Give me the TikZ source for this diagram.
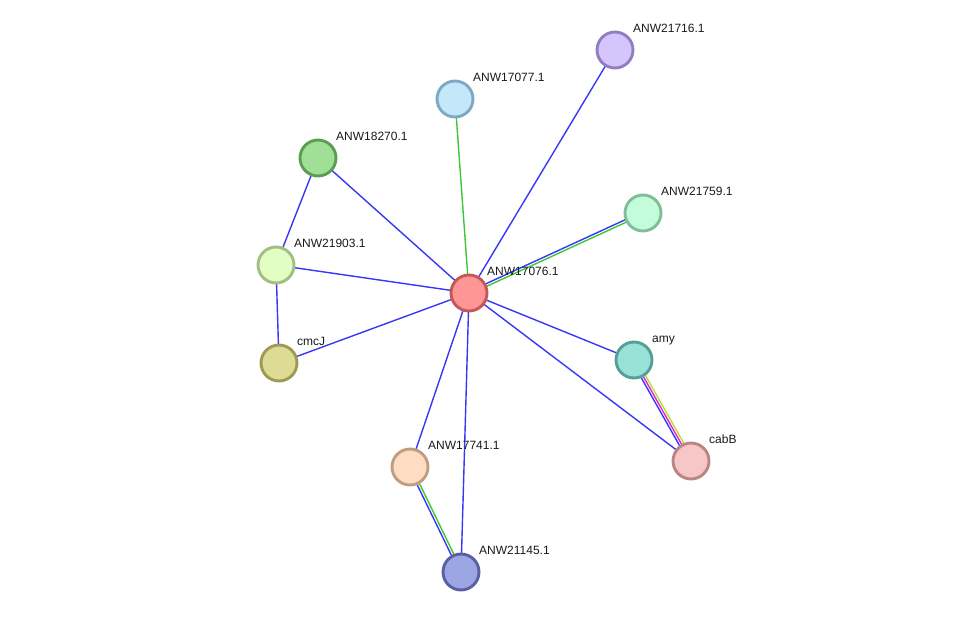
\documentclass[tikz,border=0pt]{standalone}
\usepackage{fontspec}
\setmainfont{Liberation Sans}
\usetikzlibrary{calc}
\pgfdeclarelayer{background}
\pgfsetlayers{background,main}
\definecolor{eblue}{RGB}{55,55,245}
\definecolor{egreen}{RGB}{60,200,50}
\definecolor{emag}{RGB}{220,40,220}
\definecolor{eyel}{RGB}{190,220,50}
\tikzset{
  prot/.style={circle, minimum size=36pt, inner sep=0pt, line width=2.9pt},
  lab/.style={anchor=base west, inner sep=0pt, font=\fontsize{12}{14}\selectfont, text=black!90},
  edge/.style={line width=1.4pt},
}
\newcommand{\pnode}[5]{%
  \definecolor{f#1}{HTML}{#4}\definecolor{b#1}{HTML}{#5}%
  \node[prot, fill=f#1, draw=b#1] (#1) at (#2) {};
  \node[lab] (#1-l) at ($(#1)+(18,-17.7)$) {#3};
}
\newcommand{\pedge}[4][0]{%
  \draw[edge, #4] ($(#2)!#1pt!90:(#3)$) -- ($(#3)!#1pt!-90:(#2)$);
}
\begin{document}
\begin{tikzpicture}[x=1pt, y=-1pt]
\useasboundingbox (0,0) rectangle (976,617);
\pnode{c}{469,293}{ANW17076.1}{FF9696}{C45858}
\pnode{a}{615,50}{ANW21716.1}{D6C4FC}{8F7FC0}
\pnode{b}{455,99}{ANW17077.1}{C2E8FA}{7FA8C4}
\pnode{d}{318,158}{ANW18270.1}{A0E096}{5E9C56}
\pnode{e}{643,213}{ANW21759.1}{C2FCDA}{7FBE98}
\pnode{f}{276,265}{ANW21903.1}{E2FEC2}{A2BE84}
\pnode{g}{279,363}{cmcJ}{DEDB94}{9E9A54}
\pnode{h}{634,360}{amy}{98E2D8}{569E96}
\pnode{i}{691,461}{cabB}{F8C6C6}{B88686}
\pnode{j}{410,467}{ANW17741.1}{FFDCC2}{BE9E80}
\pnode{k}{461,572}{ANW21145.1}{9CA6E2}{5860A0}
\begin{pgfonlayer}{background}
\pedge{c}{a}{eblue}
\pedge{c}{b}{egreen}
\pedge{c}{d}{eblue}
\pedge[1.3]{c}{e}{eblue}
\pedge[-1.3]{c}{e}{egreen}
\pedge{c}{f}{eblue}
\pedge{c}{g}{eblue}
\pedge{c}{h}{eblue}
\pedge{c}{i}{eblue}
\pedge{c}{j}{eblue}
\pedge{c}{k}{eblue}
\pedge{d}{f}{eblue}
\pedge{f}{g}{eblue}
\pedge[-2.4]{h}{i}{eblue}
\pedge[0]{h}{i}{emag}
\pedge[2.4]{h}{i}{eyel}
\pedge[-1.3]{j}{k}{eblue}
\pedge[1.3]{j}{k}{egreen}
\end{pgfonlayer}
\end{tikzpicture}
\end{document}
